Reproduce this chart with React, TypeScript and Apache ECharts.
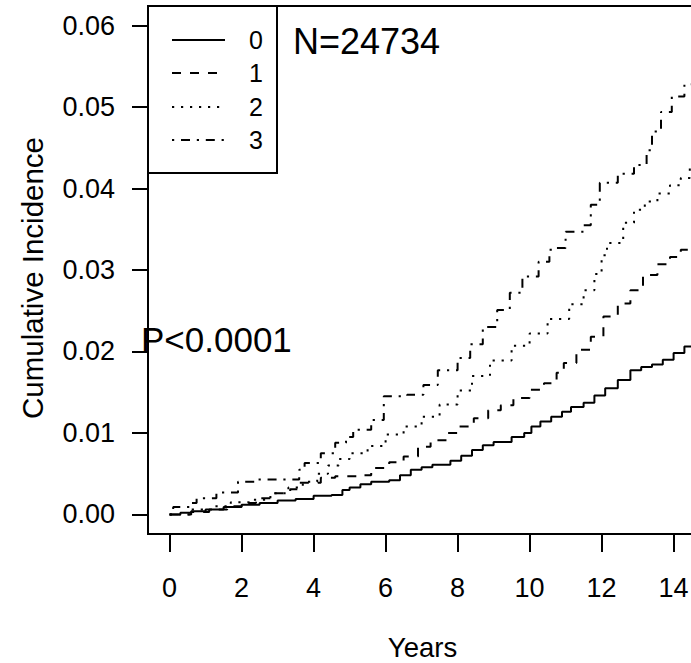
import React, { useEffect, useRef } from "react";
import * as echarts from "echarts";

// ---- data ----
const groups = ["0", "1", "2", "3"];
const xTicks = [0, 2, 4, 6, 8, 10, 12, 14];
const yTicks = [0, 0.01, 0.02, 0.03, 0.04, 0.05, 0.06];
const xTitle = "Years";
const yTitle = "Cumulative Incidence";
const nText = "N=24734";
const pText = "P<0.0001";

const years0 = [0, 0.3, 0.6, 1.0, 1.5, 2.0, 2.5, 3.0, 3.5, 4.0, 4.5, 4.8, 5.0, 5.3, 5.6, 6.1, 6.4, 6.7, 7.0, 7.3, 7.8, 8.1, 8.4, 8.7, 9.0, 9.5, 9.85, 10.05, 10.3, 10.6, 10.9, 11.15, 11.5, 11.8, 12.1, 12.45, 12.8, 13.1, 13.4, 13.7, 14.0, 14.3, 14.6, 15.0];
const cif0 = [0, 0.0002, 0.0004, 0.0006, 0.0009, 0.0012, 0.0014, 0.0017, 0.0019, 0.0023, 0.0024, 0.0030, 0.0033, 0.0037, 0.0040, 0.0042, 0.0048, 0.0055, 0.0058, 0.0061, 0.0066, 0.0072, 0.0079, 0.0085, 0.0089, 0.0095, 0.0100, 0.0108, 0.0114, 0.0120, 0.0126, 0.0132, 0.0137, 0.0146, 0.0155, 0.0165, 0.0177, 0.0181, 0.0184, 0.0190, 0.0198, 0.0206, 0.0208, 0.0209];

const years1 = [0, 0.6, 1.1, 1.6, 2.0, 2.4, 2.9, 3.35, 3.6, 4.2, 4.6, 5.3, 5.6, 6.1, 6.5, 6.9, 7.25, 7.7, 8.05, 8.45, 8.85, 9.2, 9.55, 10.0, 10.4, 10.75, 10.95, 11.3, 11.7, 12.05, 12.45, 12.8, 13.15, 13.55, 13.9, 14.2, 14.5, 15.0];
const cif1 = [0, 0.0003, 0.0006, 0.0010, 0.0014, 0.0020, 0.0026, 0.0031, 0.0039, 0.0045, 0.0047, 0.0048, 0.0057, 0.0064, 0.0071, 0.0083, 0.0091, 0.0100, 0.0108, 0.0118, 0.0128, 0.0134, 0.0143, 0.0153, 0.0161, 0.0174, 0.0186, 0.0202, 0.0218, 0.0243, 0.0259, 0.0275, 0.0294, 0.0307, 0.0316, 0.0325, 0.0331, 0.0335];

const years2 = [0, 0.6, 1.2, 1.7, 2.2, 2.8, 3.3, 3.7, 4.1, 4.4, 4.7, 5.0, 5.5, 6.0, 6.5, 7.0, 7.5, 8.0, 8.4, 8.9, 9.5, 10.0, 10.5, 11.1, 11.5, 11.8, 12.0, 12.15, 12.6, 12.9, 13.2, 13.55, 13.9, 14.2, 14.45, 14.6, 15.0];
const cif2 = [0, 0.0006, 0.0010, 0.0015, 0.0018, 0.0026, 0.0033, 0.0040, 0.0050, 0.0060, 0.0068, 0.0075, 0.0084, 0.0098, 0.0108, 0.0120, 0.0135, 0.0152, 0.0170, 0.0189, 0.0207, 0.0222, 0.0240, 0.0258, 0.0275, 0.0295, 0.0318, 0.0333, 0.0358, 0.0374, 0.0384, 0.0394, 0.0404, 0.0413, 0.0426, 0.0429, 0.0432];

const years3 = [0, 0.1, 0.55, 0.75, 1.3, 1.9, 2.4, 3.1, 3.6, 3.75, 4.2, 4.6, 4.9, 5.1, 5.6, 5.95, 6.6, 7.05, 7.45, 8.0, 8.35, 8.7, 9.1, 9.45, 9.8, 10.25, 10.55, 10.75, 11.0, 11.5, 11.7, 11.95, 12.45, 12.9, 13.25, 13.4, 13.65, 13.95, 14.3, 15.0];
const cif3 = [0, 0.0009, 0.0014, 0.0020, 0.0027, 0.0040, 0.0043, 0.0043, 0.0055, 0.0063, 0.0075, 0.0088, 0.0095, 0.0104, 0.0116, 0.0145, 0.0147, 0.0159, 0.0177, 0.0192, 0.0209, 0.0230, 0.0251, 0.0272, 0.0292, 0.0310, 0.0325, 0.0327, 0.0347, 0.0355, 0.0380, 0.0407, 0.0418, 0.0429, 0.0447, 0.0470, 0.0494, 0.0513, 0.0528, 0.0530];

const allYears = [years0, years1, years2, years3];
const allCif = [cif0, cif1, cif2, cif3];
const dashes: (number[] | "solid")[] = ["solid", [9, 9], [2.2, 6.8], [2.2, 6.8, 9, 6.8]];

const FONT = "'Liberation Sans', Arial, sans-serif";
const CHART_W = 740; // wider than the window: the plot box runs past the right edge

export default function App() {
  const ref = useRef<HTMLDivElement>(null);
  useEffect(() => {
    if (!ref.current) return;
    const chart = echarts.init(ref.current, null, { renderer: "svg" });

    const series = groups.map((g, i) => ({
      name: g,
      type: "line",
      step: "end",
      symbol: "none",
      data: allYears[i].map((x, k) => [x, allCif[i][k]]),
      lineStyle: { color: "#000", width: 2, type: dashes[i], cap: "butt" },
      z: 3,
    }));

    const legendRows = [40, 73, 107, 140];
    const legendEls: any[] = [
      {
        type: "rect",
        shape: { x: 148, y: 6, width: 129, height: 167 },
        style: { fill: "#fff", stroke: "#000", lineWidth: 2 },
        z: 10,
      },
    ];
    groups.forEach((g, i) => {
      legendEls.push({
        type: "line",
        shape: { x1: 172, y1: legendRows[i], x2: 225, y2: legendRows[i] },
        style: {
          stroke: "#000",
          lineWidth: 2,
          lineDash: dashes[i] === "solid" ? null : dashes[i],
          lineCap: "butt",
        },
        z: 11,
      });
      legendEls.push({
        type: "text",
        x: 249,
        y: legendRows[i],
        style: {
          text: g,
          fontSize: 25,
          fontFamily: FONT,
          fill: "#000",
          textVerticalAlign: "middle",
          textAlign: "left",
        },
        z: 11,
      });
    });

    chart.setOption({
      animation: false,
      backgroundColor: "#fff",
      grid: {
        left: 148,
        top: 6,
        right: CHART_W - 731.2,
        bottom: 129,
        show: true,
        borderColor: "#000",
        borderWidth: 2,
        containLabel: false,
      },
      xAxis: {
        type: "value",
        min: -0.6,
        max: 15.6,
        axisLine: { show: false, onZero: false },
        splitLine: { show: false },
        axisTick: {
          show: true,
          customValues: xTicks,
          length: 18,
          lineStyle: { color: "#000", width: 2 },
        },
        axisLabel: {
          customValues: xTicks,
          margin: 40,
          fontSize: 27,
          fontFamily: FONT,
          color: "#000",
        },
      },
      yAxis: {
        type: "value",
        min: -0.0024,
        max: 0.0624,
        axisLine: { show: false, onZero: false },
        splitLine: { show: false },
        axisTick: {
          show: true,
          customValues: yTicks,
          length: 16,
          lineStyle: { color: "#000", width: 2 },
        },
        axisLabel: {
          customValues: yTicks,
          margin: 33,
          fontSize: 27,
          fontFamily: FONT,
          color: "#000",
          formatter: (v: number) => v.toFixed(2),
        },
      },
      graphic: [
        ...legendEls,
        {
          type: "text",
          x: 422.5,
          y: 647,
          style: {
            text: xTitle,
            fontSize: 27.5,
            fontFamily: FONT,
            fill: "#000",
            textAlign: "center",
            textVerticalAlign: "middle",
          },
        },
        {
          type: "text",
          x: 32.5,
          y: 278,
          rotation: Math.PI / 2,
          style: {
            text: yTitle,
            fontSize: 29.5,
            fontFamily: FONT,
            fill: "#000",
            textAlign: "center",
            textVerticalAlign: "middle",
          },
        },
        {
          type: "text",
          x: 293,
          y: 41,
          style: {
            text: nText,
            fontSize: 36,
            fontFamily: FONT,
            fill: "#000",
            textVerticalAlign: "middle",
          },
          z: 12,
        },
        {
          type: "text",
          x: 141,
          y: 339,
          style: {
            text: pText,
            fontSize: 35,
            fontFamily: FONT,
            fill: "#000",
            textVerticalAlign: "middle",
          },
          z: 12,
        },
      ],
      series,
    });
    return () => chart.dispose();
  }, []);

  return (
    <div
      style={{
        position: "fixed",
        left: 0,
        top: 0,
        width: 691,
        height: 663,
        overflow: "hidden",
        background: "#fff",
      }}
    >
      <div ref={ref} style={{ width: CHART_W, height: 663 }} />
    </div>
  );
}
